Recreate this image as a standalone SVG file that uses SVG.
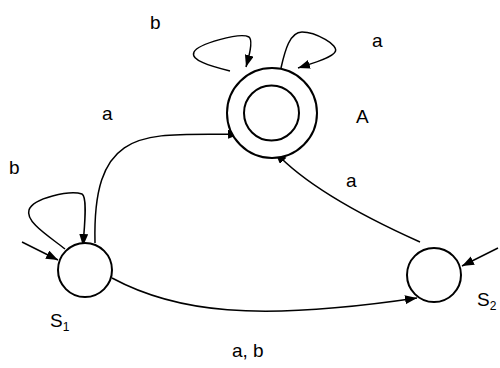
<svg xmlns="http://www.w3.org/2000/svg" width="500" height="368" viewBox="0 0 500 368">
<defs>
<marker id="ah" markerUnits="userSpaceOnUse" markerWidth="13" markerHeight="10" refX="12" refY="4.5" orient="auto"><path d="M0,0 L12,4.5 L0,9 z" fill="#000"/></marker>
<style>
.st{fill:#fff;stroke:#000;stroke-width:2}
.ed{fill:none;stroke:#000;stroke-width:1.5;marker-end:url(#ah)}
.lb{font-family:"Liberation Sans",Arial,sans-serif;font-size:19px;fill:#000}
.sb{font-size:12px}
</style>
</defs>
<rect width="500" height="368" fill="#fff"/>
<g id="connectors">
<path class="ed" d="M95,243 C92,120 150,136 240,134"/>
<path class="ed" d="M420,242 Q315,195 275,152"/>
<path class="ed" d="M112,278 C175,312 255,322 417,298"/>
<path class="ed" d="M22,242 L58,260"/>
<path class="ed" d="M498,248 L462,266"/>
<path class="ed" d="M65,249 C50,237 25,222 29,210 C33,198 70,190 82,194 C88,197 84,230 83,246"/>
<path class="ed" d="M230,71 C210,66 190,60 194,52 C198,44 240,32 249,37 C254,41 248,60 246,67"/>
<path class="ed" d="M281,68 C285,50 290,32 302,32 C315,32 340,45 335,52 C332,58 310,64 298,68"/>
</g>
<g id="A">
<circle class="st" cx="272" cy="113" r="45"/>
<circle class="st" cx="271.5" cy="113" r="27.5"/>
</g>
<g id="S1"><circle class="st" cx="85" cy="270" r="27"/></g>
<g id="S2"><circle class="st" cx="434" cy="275" r="27"/></g>
<g id="labels" class="lb">
<text x="150" y="29">b</text>
<text x="372" y="47">a</text>
<text x="102" y="120">a</text>
<text x="356" y="123">A</text>
<text x="9" y="174">b</text>
<text x="346" y="187">a</text>
<text x="50" y="327">S<tspan class="sb" dy="4">1</tspan></text>
<text x="477" y="306">S<tspan class="sb" dy="4">2</tspan></text>
<text x="232" y="357">a, b</text>
</g>
</svg>
